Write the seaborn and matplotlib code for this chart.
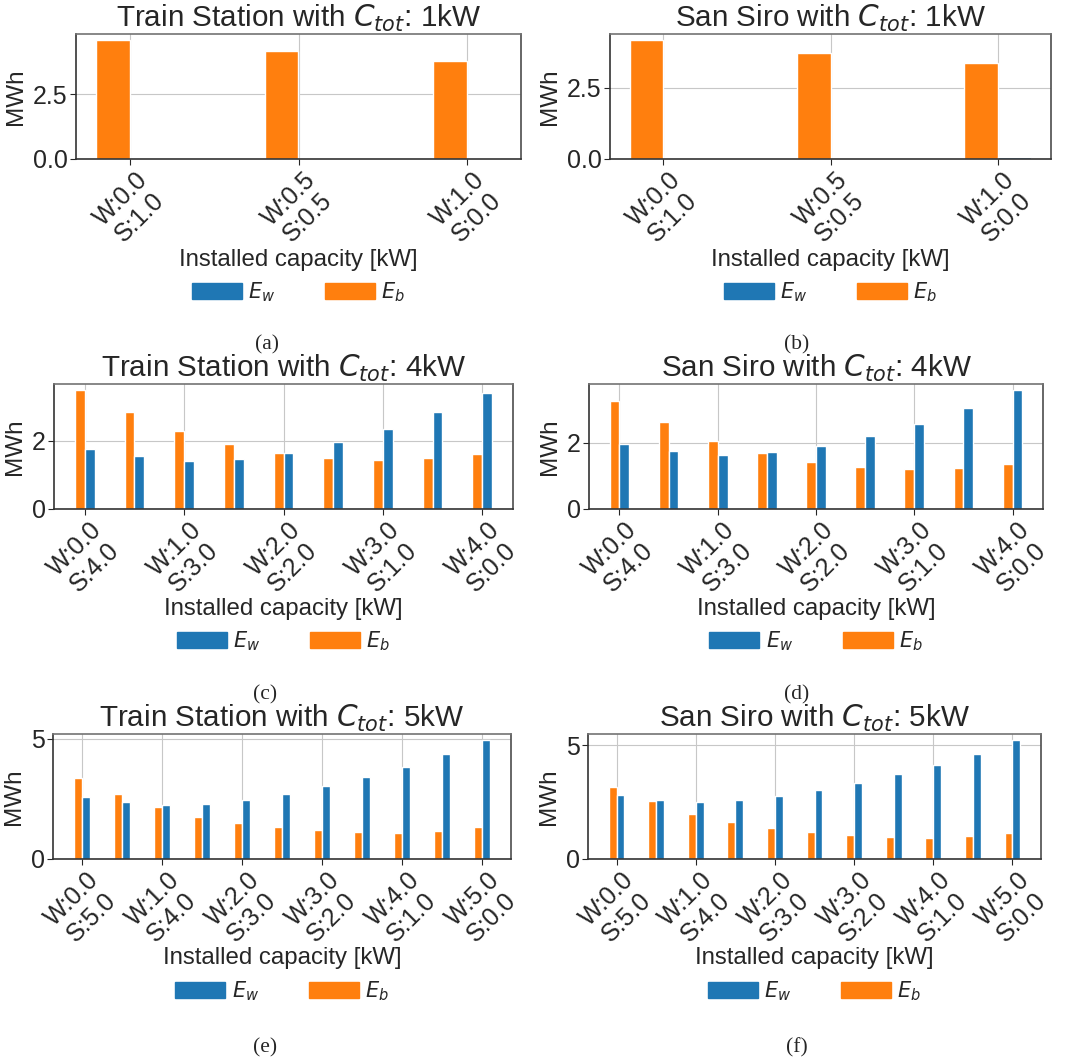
import numpy as np
import pandas as pd
import matplotlib
matplotlib.use("Agg")
import matplotlib.pyplot as plt
from matplotlib.patches import Patch
import seaborn as sns

# ---------------- data ----------------
site_ts = "Train Station"
site_ss = "San Siro"

wind_1kw = [0.0, 0.5, 1.0]
wind_4kw = [0.0, 0.5, 1.0, 1.5, 2.0, 2.5, 3.0, 3.5, 4.0]
wind_5kw = [0.0, 0.5, 1.0, 1.5, 2.0, 2.5, 3.0, 3.5, 4.0, 4.5, 5.0]

# Train Station
ts1_eb = [4.60, 4.17, 3.78]
ts1_ew = [0.00, 0.00, 0.04]
ts4_eb = [3.50, 2.85, 2.29, 1.90, 1.64, 1.49, 1.43, 1.49, 1.61]
ts4_ew = [1.75, 1.55, 1.40, 1.46, 1.66, 1.96, 2.34, 2.85, 3.41]
ts5_eb = [3.39, 2.72, 2.18, 1.76, 1.51, 1.35, 1.22, 1.14, 1.10, 1.18, 1.35]
ts5_ew = [2.60, 2.39, 2.26, 2.31, 2.47, 2.72, 3.06, 3.43, 3.85, 4.39, 4.96]

# San Siro
ss1_eb = [4.19, 3.73, 3.37]
ss1_ew = [0.00, 0.00, 0.08]
ss4_eb = [3.25, 2.62, 2.04, 1.68, 1.43, 1.28, 1.22, 1.25, 1.37]
ss4_ew = [1.95, 1.74, 1.62, 1.71, 1.89, 2.19, 2.56, 3.04, 3.59]
ss5_eb = [3.17, 2.56, 1.99, 1.64, 1.37, 1.20, 1.07, 0.98, 0.94, 1.02, 1.15]
ss5_ew = [2.82, 2.60, 2.51, 2.60, 2.78, 3.04, 3.35, 3.74, 4.14, 4.62, 5.23]

yticks_1kw = [0.0, 2.5]
yticks_4kw = [0, 2]
yticks_5kw = [0, 5]

captions = ["(a)", "(b)", "(c)", "(d)", "(e)", "(f)"]

panels = [
    (site_ts, 1, wind_1kw, ts1_eb, ts1_ew, yticks_1kw),
    (site_ss, 1, wind_1kw, ss1_eb, ss1_ew, yticks_1kw),
    (site_ts, 4, wind_4kw, ts4_eb, ts4_ew, yticks_4kw),
    (site_ss, 4, wind_4kw, ss4_eb, ss4_ew, yticks_4kw),
    (site_ts, 5, wind_5kw, ts5_eb, ts5_ew, yticks_5kw),
    (site_ss, 5, wind_5kw, ss5_eb, ss5_ew, yticks_5kw),
]

# ---------------- style ----------------
sns.set_style("whitegrid", {
    "axes.edgecolor": "0.2",
    "grid.color": "0.78",
    "xtick.bottom": True,
    "ytick.left": True,
})
plt.rcParams["font.family"] = ["Liberation Sans", "DejaVu Sans"]
plt.rcParams["mathtext.fontset"] = "dejavusans"

BLUE = "#1f77b4"
ORANGE = "#ff7f0e"

fig = plt.figure(figsize=(10.65, 10.61), dpi=100)

W, H = 1065.0, 1061.0
# axes boxes in pixels: left, top, right, bottom
boxes = [
    (76, 34, 521, 159),
    (610, 34, 1051, 159),
    (54, 384, 513, 509),
    (589, 384, 1043, 509),
    (53, 734, 511, 859),
    (588, 734, 1041, 859),
]
caption_pos = [(267, 345), (797, 345), (265, 695), (797, 695), (265, 1048), (797, 1048)]
xlabel_y = [260, 260, 609, 609, 958, 958]
legend_y = [292, 292, 641, 641, 991, 991]

for i, (site, ctot, wind, eb, ew, yt) in enumerate(panels):
    l, t, r, b = boxes[i]
    ax = fig.add_axes([l / W, 1 - b / H, (r - l) / W, (b - t) / H])
    labels = [f"W:{w:.1f}\nS:{ctot - w:.1f}" for w in wind]
    n = len(labels)
    df = pd.DataFrame({
        "config": labels * 2,
        "series": ["E_b"] * n + ["E_w"] * n,
        "value": list(eb) + list(ew),
    })
    sns.barplot(data=df, x="config", y="value", hue="series",
                order=labels, hue_order=["E_b", "E_w"],
                palette={"E_b": ORANGE, "E_w": BLUE},
                width=0.4, saturation=1, legend=False, ax=ax,
                err_kws={"linewidth": 0})
    span = (n - 1) + 0.4
    ax.set_xlim(-0.2 - 0.05 * span, n - 1 + 0.2 + 0.05 * span)
    ymax = max(max(eb), max(ew)) * 1.05
    ax.set_ylim(0, ymax)
    step = 1 if n <= 3 else 2
    pos = list(range(0, n, step))
    ax.set_xticks(pos)
    ax.set_xticklabels([labels[p] for p in pos], rotation=45, ha="center",
                       fontsize=18, linespacing=1.15)
    ax.set_yticks(yt)
    ax.tick_params(axis="y", labelsize=18, length=4, pad=2)
    ax.tick_params(axis="x", length=4, pad=2)
    ax.xaxis.grid(True)
    ax.yaxis.grid(True)
    ax.set_axisbelow(True)
    for s in ax.spines.values():
        s.set_linewidth(1.2)
    ax.spines["top"].set_color("0.45")
    ax.spines["right"].set_color("0.3")
    ax.set_title(f"{site} with $C_{{tot}}$: {ctot}kW", fontsize=21.3, pad=2)
    ax.set_xlabel("Installed capacity [kW]", fontsize=17.3)
    ax.xaxis.label.set_va("center")
    hpx = b - t
    ax.xaxis.set_label_coords(0.5, -(xlabel_y[i] - b) / hpx)
    ax.set_ylabel("MWh", fontsize=17.5, labelpad=4)
    handles = [Patch(color=BLUE, label="$E_w$"), Patch(color=ORANGE, label="$E_b$")]
    ax.legend(handles=handles, loc="center",
              bbox_to_anchor=(0.5, -(legend_y[i] - b) / hpx),
              ncol=2, frameon=False, fontsize=15, handlelength=2.4,
              handleheight=0.85, columnspacing=2.4, handletextpad=0.3)
    cx, cy = caption_pos[i]
    fig.text(cx / W, 1 - cy / H, captions[i], ha="center", va="center",
             fontsize=15.5, family=["Liberation Serif", "DejaVu Serif"])

fig.savefig("out.png", dpi=100, facecolor="white")
